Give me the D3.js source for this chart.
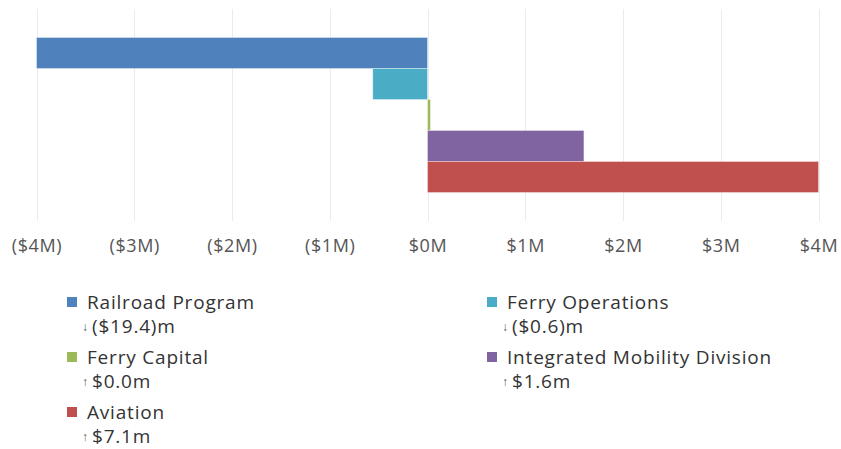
<!DOCTYPE html>
<html>
<head>
<meta charset="utf-8">
<script src="https://cdn.jsdelivr.net/npm/d3@7"></script>
<style>
  body { margin: 0; background: #fff; }
  svg { font-family: "Open Sans", sans-serif; }
</style>
</head>
<body>
<svg id="chart"></svg>
<script>
// Budget change by program, in $M
const programs = ["Railroad Program", "Ferry Operations", "Ferry Capital", "Integrated Mobility Division", "Aviation"];
const changes = [-19.4, -0.56, 0.03, 1.6, 7.1];
const colors = ["#4f81bd", "#4bacc6", "#9bbb59", "#8064a2", "#c0504d"];
const ticks = [-4, -3, -2, -1, 0, 1, 2, 3, 4];

const width = 841;
const height = 449;

const svg = d3.select("#chart")
    .attr("width", width)
    .attr("height", height);

const x = d3.scaleLinear()
    .domain([-4, 4])
    .range([36.5, 818.5]);

const y = d3.scaleBand()
    .domain(programs)
    .range([9, 221])
    .paddingInner(0)
    .paddingOuter(0.92);

// grid lines
svg.append("g")
    .selectAll("line")
    .data(ticks)
    .join("line")
    .attr("x1", d => Math.round(x(d)) + 0.5)
    .attr("x2", d => Math.round(x(d)) + 0.5)
    .attr("y1", 9)
    .attr("y2", 221)
    .attr("stroke", "#ebebeb")
    .attr("stroke-width", 1);

// bars, clipped to the axis range
const clamp = v => Math.max(-4, Math.min(4, v));
svg.append("g")
    .selectAll("rect")
    .data(programs)
    .join("rect")
    .attr("x", (d, i) => x(Math.min(0, clamp(changes[i]))))
    .attr("width", (d, i) => Math.abs(x(clamp(changes[i])) - x(0)))
    .attr("y", d => y(d))
    .attr("height", y.bandwidth())
    .attr("fill", (d, i) => colors[i])
    .attr("stroke", "rgba(255,255,255,0.35)")
    .attr("stroke-width", 1);

// x axis labels
const fmtTick = d => d < 0 ? `($${-d}M)` : `$${d}M`;
const xAxis = d3.axisBottom(x)
    .tickValues(ticks)
    .tickFormat(fmtTick)
    .tickSize(0)
    .tickPadding(0);

svg.append("g")
    .attr("transform", "translate(0,239)")
    .call(xAxis)
    .call(g => g.select(".domain").remove())
    .call(g => g.selectAll("text")
        .attr("fill", "#555")
        .style("font-family", "'Open Sans', sans-serif")
        .style("font-size", "18px")
        .style("letter-spacing", "0.6px"));

// legend
const fmtVal = v => {
    const s = Math.abs(v).toFixed(1);
    return v < 0 ? `($${s})m` : `$${s}m`;
};
const legend = svg.append("g")
    .selectAll("g")
    .data(programs)
    .join("g")
    .attr("transform", (d, i) => `translate(${i % 2 === 0 ? 67 : 487},${297 + Math.floor(i / 2) * 55})`);

legend.append("rect")
    .attr("width", 10)
    .attr("height", 10)
    .attr("fill", (d, i) => colors[i]);

legend.append("text")
    .attr("x", 20)
    .attr("y", 12)
    .attr("fill", "#333")
    .style("font-size", "19px")
    .style("letter-spacing", "0.8px")
    .text(d => d);

const sub = legend.append("g")
    .attr("transform", "translate(15,36)");

sub.append("text")
    .attr("y", -2)
    .attr("fill", "#555")
    .style("font-size", "12px")
    .text((d, i) => changes[i] < 0 ? "↓" : "↑");

sub.append("text")
    .attr("x", 10)
    .attr("fill", "#333")
    .style("font-size", "19px")
    .style("letter-spacing", "0.8px")
    .text((d, i) => fmtVal(changes[i]));
</script>
</body>
</html>
